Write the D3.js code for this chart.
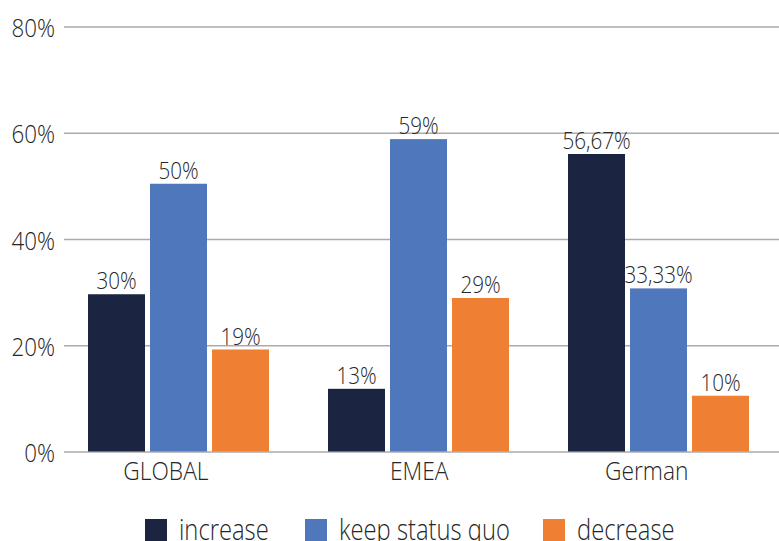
<!DOCTYPE html>
<html><head><meta charset="utf-8">
<script src="https://cdn.jsdelivr.net/npm/d3@7"></script>
<style>
body{margin:0;background:#fff;}
text{font-family:"Open Sans",sans-serif;font-weight:300;fill:#262626;}
</style></head><body>
<svg id="chart" width="779" height="541"></svg>
<script>
const categories = ["GLOBAL", "EMEA", "German"];
const series = ["increase", "keep status quo", "decrease"];
const increaseValues = [29.6, 11.8, 56.0];
const keepValues = [50.4, 58.8, 30.7];
const decreaseValues = [19.2, 28.9, 10.5];
const increaseLabels = ["30%", "13%", "56,67%"];
const keepLabels = ["50%", "59%", "33,33%"];
const decreaseLabels = ["19%", "29%", "10%"];
const yTicks = [0, 20, 40, 60, 80];
const colors = ["#1b2440", "#4f78bc", "#ee7f33"];

const valuesBySeries = [increaseValues, keepValues, decreaseValues];
const labelsBySeries = [increaseLabels, keepLabels, decreaseLabels];
const SX = 0.86; // horizontal text compression to mimic the narrow original face

const svg = d3.select("#chart");
const y = d3.scaleLinear().domain([0, 80]).range([451.5, 26.5]);
const x0 = d3.scaleBand().domain(categories).range([58.5, 778.5]).padding(0);
const groupW = 181;
const x1 = d3.scaleBand().domain(series).range([0, groupW]).paddingInner(0.0806).paddingOuter(0);

// gridlines
const yAxis = d3.axisLeft(y).tickValues(yTicks).tickFormat("").tickSize(-(779 - 64));
const g = svg.append("g").attr("transform", "translate(64,0)").call(yAxis);
g.select(".domain").remove();
g.selectAll(".tick line").attr("stroke", "#ababab").attr("stroke-width", 1.5);
g.selectAll(".tick text").remove();

// tick labels
svg.append("g").selectAll("text").data(yTicks).join("text")
  .attr("transform", d => `translate(55,${y(d) + 10.5}) scale(${SX},1)`)
  .attr("text-anchor", "end")
  .attr("font-size", 26)
  .text(d => d + "%");

// bars
const data = [];
categories.forEach((c, i) => series.forEach((s, j) => data.push({c, s, j, v: valuesBySeries[j][i], l: labelsBySeries[j][i]})));
const gx = c => x0(c) + (x0.bandwidth() - groupW) / 2;

svg.append("g").selectAll("rect").data(data).join("rect")
  .attr("x", d => gx(d.c) + x1(d.s))
  .attr("width", x1.bandwidth())
  .attr("y", d => y(d.v))
  .attr("height", d => y(0) - y(d.v))
  .attr("fill", d => colors[d.j]);

svg.append("g").selectAll("text").data(data).join("text")
  .attr("transform", d => `translate(${gx(d.c) + x1(d.s) + x1.bandwidth() / 2},${y(d.v) - 5}) scale(${SX},1)`)
  .attr("text-anchor", "middle")
  .attr("font-size", 24)
  .text(d => d.l);

// category labels (right-aligned slightly past group centre, as in the original)
svg.append("g").selectAll("text").data(categories).join("text")
  .attr("transform", d => `translate(${x0(d) + x0.bandwidth() / 2 + 30},${y(0) + 28.5}) scale(${SX},1)`)
  .attr("text-anchor", "end")
  .attr("font-size", 26.5)
  .text(d => d);

// legend
const legendX = [145, 305, 543];
const leg = svg.append("g").selectAll("g").data(series).join("g")
  .attr("transform", (d, i) => `translate(${legendX[i]},519)`);
leg.append("rect").attr("width", 22).attr("height", 22).attr("fill", (d, i) => colors[i]);
leg.append("text").attr("transform", `translate(34,21) scale(0.82,1)`).attr("font-size", 29).text(d => d);
</script>
</body></html>
